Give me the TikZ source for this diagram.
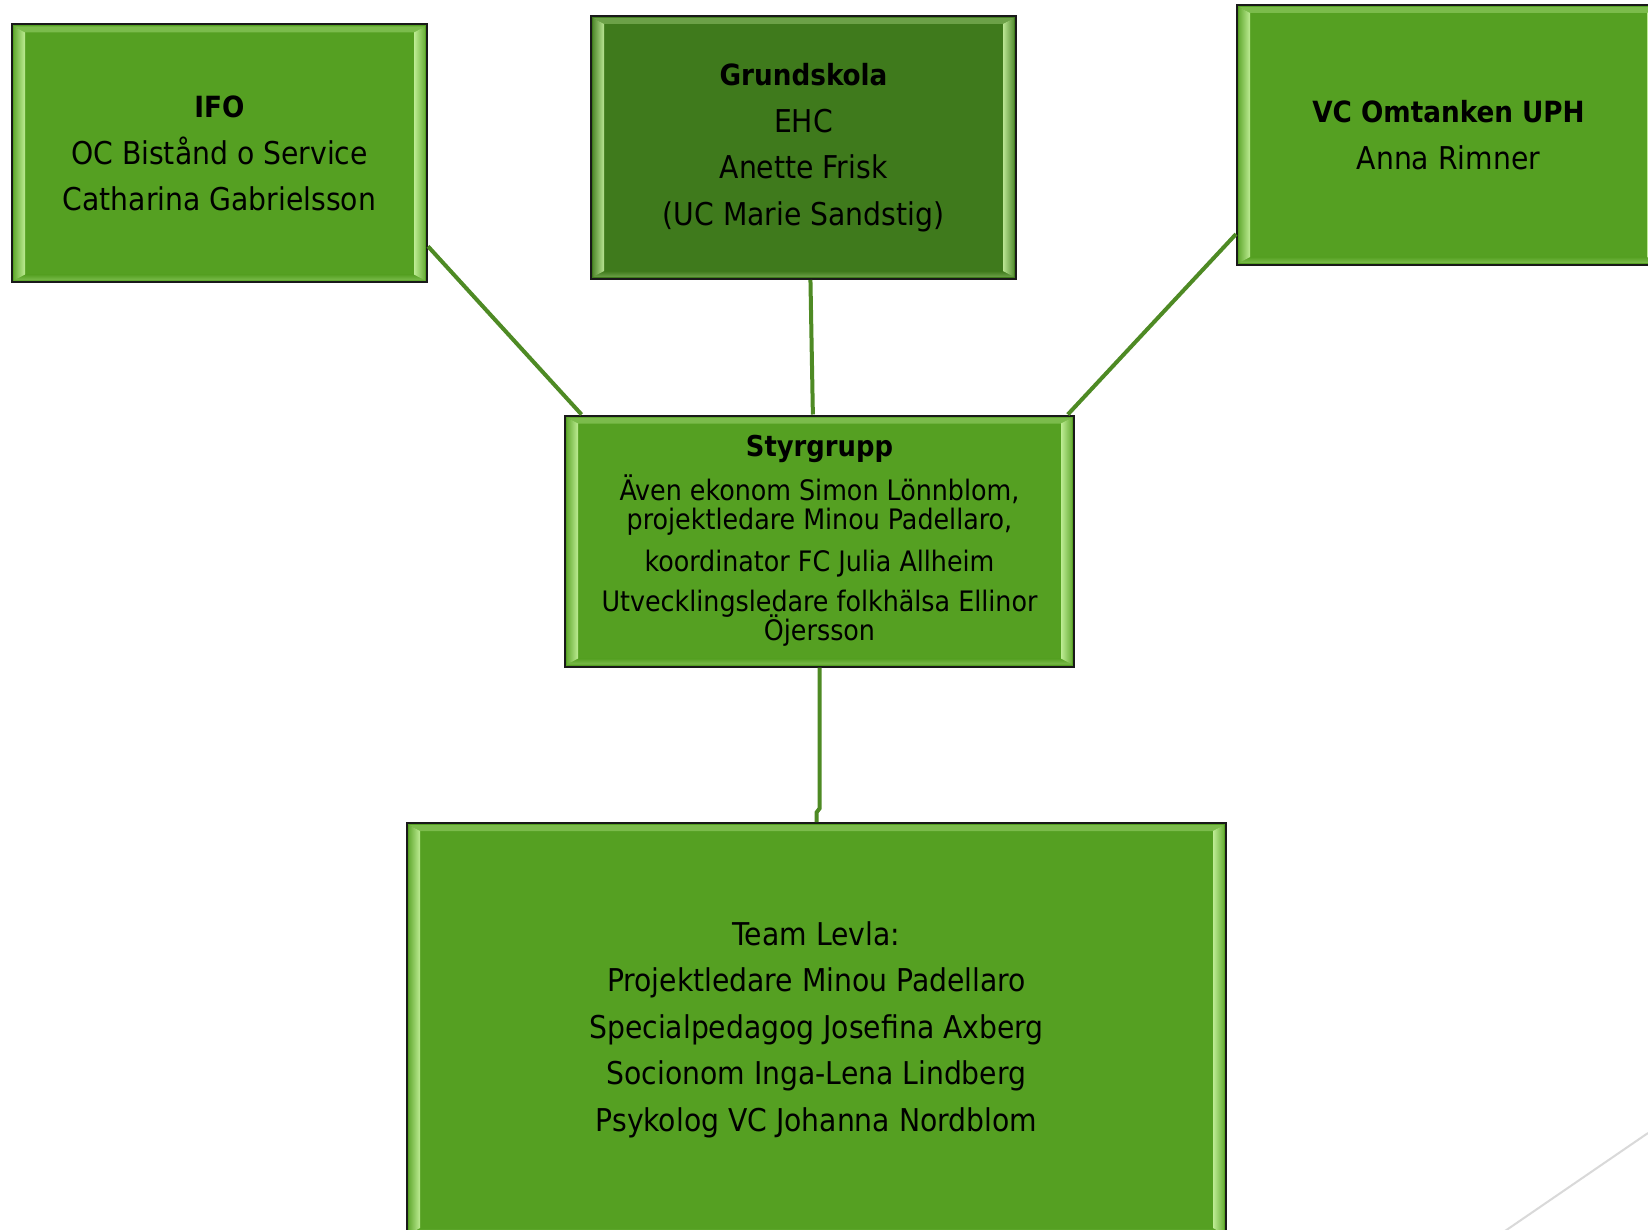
\documentclass[tikz,border=0pt]{standalone}
\usepackage{fontspec}
\setmainfont{DejaVu Sans Condensed}
\definecolor{boxgreen}{HTML}{55A022}
\definecolor{darkgreen}{HTML}{3F7A1C}
\definecolor{linegreen}{HTML}{4E8A24}
\definecolor{bevelhi}{HTML}{D8FFB0}
\newcommand\boxhead[1]{{\fontsize{29.2}{46.5}\selectfont\bfseries #1}}
\newcommand\tightlines{\lineskiplimit=-100pt\relax}
\tikzset{
  orgbox/.style={draw=black!90, line width=2pt, fill=#1, align=center, inner sep=0pt,
    font=\fontsize{31.4}{46.5}\selectfont\tightlines,
    path picture={
      \shade[top color=#1!70!bevelhi, bottom color=#1]
        ([shift={(2pt,-2pt)}]path picture bounding box.north west) -- ([shift={(-2pt,-2pt)}]path picture bounding box.north east)
        -- ([shift={(-13pt,-8pt)}]path picture bounding box.north east) -- ([shift={(13pt,-8pt)}]path picture bounding box.north west) -- cycle;
      \shade[top color=#1, bottom color=#1!70!bevelhi]
        ([shift={(2pt,2pt)}]path picture bounding box.south west) -- ([shift={(-2pt,2pt)}]path picture bounding box.south east)
        -- ([shift={(-13pt,8pt)}]path picture bounding box.south east) -- ([shift={(13pt,8pt)}]path picture bounding box.south west) -- cycle;
      \shade[left color=#1!85!bevelhi, right color=bevelhi!80!#1]
        ([shift={(2pt,-2pt)}]path picture bounding box.north west) -- ([shift={(13pt,-8pt)}]path picture bounding box.north west)
        -- ([shift={(13pt,8pt)}]path picture bounding box.south west) -- ([shift={(2pt,2pt)}]path picture bounding box.south west) -- cycle;
      \shade[left color=bevelhi!80!#1, right color=#1!85!bevelhi]
        ([shift={(-2pt,-2pt)}]path picture bounding box.north east) -- ([shift={(-13pt,-8pt)}]path picture bounding box.north east)
        -- ([shift={(-13pt,8pt)}]path picture bounding box.south east) -- ([shift={(-2pt,2pt)}]path picture bounding box.south east) -- cycle;
    }},
  orgbox/.default=boxgreen,
  link/.style={draw=linegreen, line width=4pt}
}
\begin{document}
\begin{tikzpicture}[x=1pt, y=-1pt]
\clip (0,0) rectangle (1648,1230);
\fill[white] (0,0) rectangle (1648,1230);
\node[orgbox, minimum width=415, minimum height=258] (ifo) at (219.5,153.5) {\boxhead{IFO}\\OC Bistånd o Service\\Catharina Gabrielsson};
\node[orgbox=darkgreen, minimum width=425, minimum height=263] (grund) at (803.5,147.5) {\boxhead{Grundskola}\\EHC\\Anette Frisk\\(UC Marie Sandstig)};
\node[orgbox, minimum width=423, minimum height=260] (vc) at (1448.5,135) {\boxhead{VC Omtanken UPH}\\Anna Rimner};
\node[orgbox, minimum width=509, minimum height=251, font=\fontsize{28.2}{29}\selectfont\tightlines] (sty) at (819.5,541) {{\fontsize{28.7}{29}\selectfont\bfseries Styrgrupp}\\[15pt]Även ekonom Simon Lönnblom,\\projektledare Minou Padellaro,\\[13pt]koordinator FC Julia Allheim\\[11pt]Utvecklingsledare folkhälsa Ellinor\\Öjersson};
\node[orgbox, minimum width=819, minimum height=413] (team) at (816.5,1029.5) {Team Levla:\\Projektledare Minou Padellaro\\Specialpedagog Josefina Axberg\\Socionom Inga-Lena Lindberg\\Psykolog VC Johanna Nordblom};
\draw[link] (ifo.-24.4) -- (sty.152);
\draw[link] (grund.-87.6) -- (sty.93.4);
\draw[link] (vc.-155.6) -- (sty.27.5);
\draw[link] (sty.south) -- ++(0,141) -- ++(-3,4) -- (team.north);
\draw[gray!30, line width=2pt] (1505,1231) -- (1648,1133);
\end{tikzpicture}
\end{document}
